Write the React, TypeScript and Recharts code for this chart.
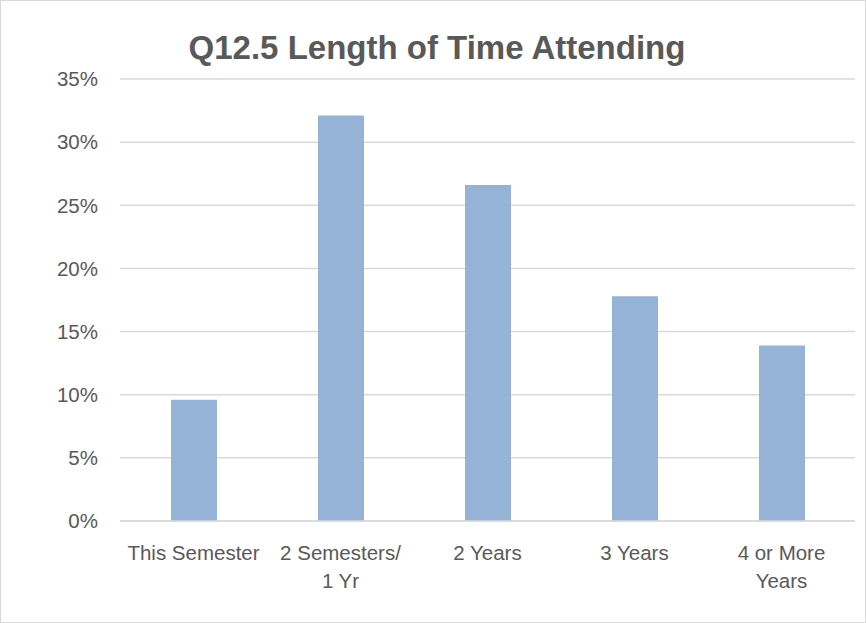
import { BarChart, Bar, XAxis, YAxis, CartesianGrid } from 'recharts';

const categories = ['This Semester', '2 Semesters/\n1 Yr', '2 Years', '3 Years', '4 or More\nYears'];
const shares = [0.096, 0.321, 0.266, 0.178, 0.139];
const yTicks = [0, 0.05, 0.1, 0.15, 0.2, 0.25, 0.3, 0.35];

const data = categories.map((name, i) => ({ name, value: shares[i] }));

const font = '"Liberation Sans", Arial, sans-serif';
const textColor = '#595959';
const gridColor = '#d9d9d9';

const CategoryTick = ({ x, y, payload }: any) => {
  const lines = String(payload.value).split('\n');
  return (
    <text x={x} y={y + 37} textAnchor="middle" fill={textColor} fontSize={20.5} fontFamily={font}>
      {lines.map((line, i) => (
        <tspan key={i} x={x} dy={i === 0 ? 0 : 28}>
          {line}
        </tspan>
      ))}
    </text>
  );
};

export default function App() {
  return (
    <div
      style={{
        position: 'absolute',
        left: 0,
        top: 0,
        width: 866,
        height: 623,
        boxSizing: 'border-box',
        border: '1px solid #d9d9d9',
        background: '#fff',
      }}
    >
      <div
        style={{
          position: 'absolute',
          left: 0,
          top: 27,
          width: 872,
          textAlign: 'center',
          fontFamily: font,
          fontWeight: 'bold',
          fontSize: 33,
          lineHeight: '40px',
          color: textColor,
        }}
      >
        Q12.5 Length of Time Attending
      </div>
      <div style={{ position: 'absolute', left: -1, top: -1 }}>
        <BarChart width={866} height={623} data={data} margin={{ top: 79, right: 11, bottom: 42, left: 0 }}>
          <CartesianGrid vertical={false} stroke={gridColor} strokeWidth={1.5} />
          <XAxis
            dataKey="name"
            axisLine={{ stroke: gridColor, strokeWidth: 1.5 }}
            tickLine={false}
            tickSize={0}
            height={60}
            interval={0}
            tick={<CategoryTick />}
          />
          <YAxis
            domain={[0, 0.35]}
            ticks={yTicks}
            width={120}
            axisLine={false}
            tickLine={false}
            tickSize={0}
            tickMargin={22}
            tickFormatter={(v: number) => `${Math.round(v * 100)}%`}
            tick={{ fill: textColor, fontSize: 20.5, fontFamily: font }}
          />
          <Bar dataKey="value" fill="#95b3d7" barSize={46} isAnimationActive={false} />
        </BarChart>
      </div>
    </div>
  );
}
